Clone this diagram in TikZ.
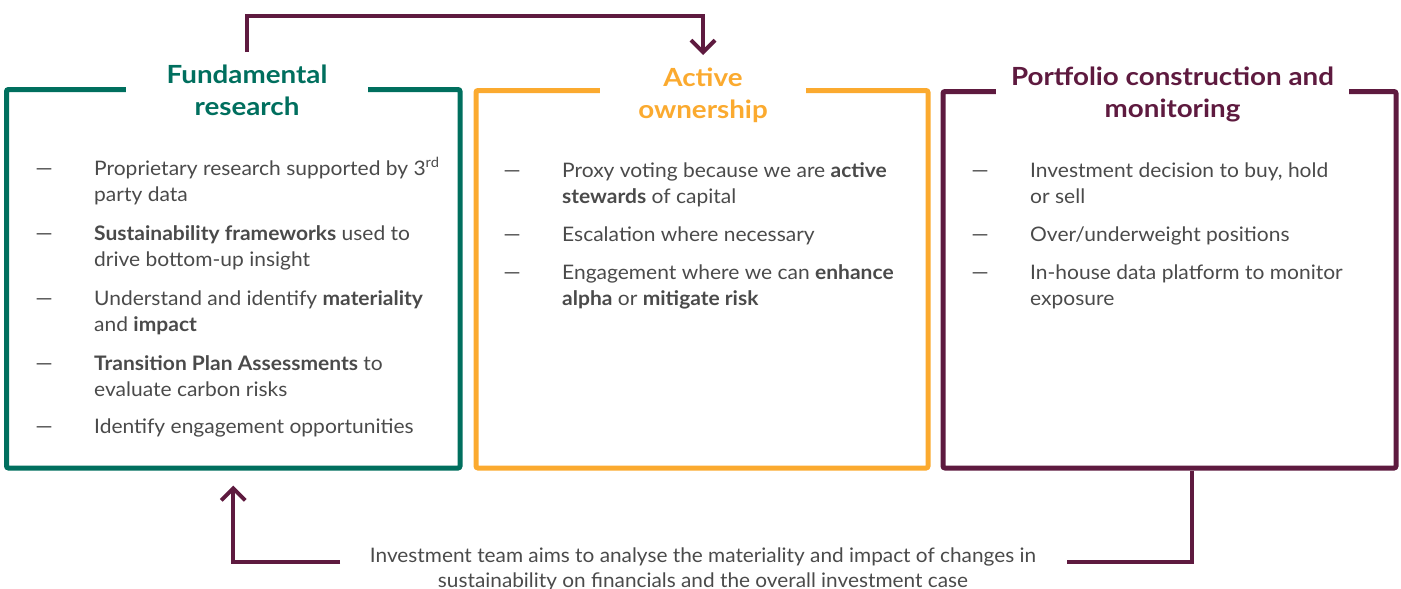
\documentclass[tikz,border=0pt]{standalone}
\usepackage{fontspec}
\setmainfont{Lato}[FakeStretch=1.05]
\newfontfamily\notefont[FakeStretch=1.04]{Lato}
\newfontfamily\titlefont[FakeStretch=1.11]{Lato}
\usetikzlibrary{arrows.meta}
\definecolor{fgreen}{HTML}{006F5E}
\definecolor{forange}{HTML}{FBAA2F}
\definecolor{fplum}{HTML}{5E1A3F}
\definecolor{fgray}{HTML}{4A4A4A}
\begin{document}
\begin{tikzpicture}[x=1pt,y=-1pt,
  box/.style={line width=5pt, rounded corners=2pt, inner sep=0pt},
  title/.style={fill=white, inner xsep=0pt, inner ysep=13pt, align=center,
    font=\titlefont\fontsize{25}{32}\selectfont\bfseries, anchor=north},
  item/.style={anchor=base west, inner sep=0pt, text=fgray,
    font=\fontsize{20}{26}\selectfont},
  bullet/.style={anchor=base, inner sep=0pt, text=fgray,
    font=\fontsize{21}{26}\selectfont},
  flow/.style={line width=4pt, draw=fplum, -{Straight Barb[length=12pt,width=24pt]}},
  link/.style={line width=4pt, draw=fplum}
]
\useasboundingbox (0,0) rectangle (1401,589);

% boxes
\node[box, draw=fgreen, minimum width=453.5pt, minimum height=378.5pt] (gbox) at (233.25,278.75) {};
\node[box, draw=forange, minimum width=452pt, minimum height=377.5pt] (obox) at (702,279.25) {};
\node[box, draw=fplum, minimum width=453pt, minimum height=376.5pt] (pbox) at (1169.5,279.75) {};

% titles
\node[title, text=fgreen, minimum width=242pt] (gt) at (247,52) {Fundamental\\research};
\node[title, text=forange, minimum width=206pt] (ot) at (703,55) {Active\\ownership};
\node[title, text=fplum, minimum width=353pt] (pt) at (1172.5,54) {Portfolio construction and\\monitoring};

% green items
\node[bullet] (gd1) at (44,175) {—};
\node[item] (g1) at (94,175) {\begin{tabular}[t]{@{}l@{}}Proprietary research supported by 3\textsuperscript{rd}\\party data\end{tabular}};
\node[bullet] (gd2) at (44,240) {—};
\node[item] (g2) at (94,240) {\begin{tabular}[t]{@{}l@{}}\textbf{Sustainability frameworks} used to\\drive bottom-up insight\end{tabular}};
\node[bullet] (gd3) at (44,305) {—};
\node[item] (g3) at (94,305) {\begin{tabular}[t]{@{}l@{}}Understand and identify \textbf{materiality}\\and \textbf{impact}\end{tabular}};
\node[bullet] (gd4) at (44,370) {—};
\node[item] (g4) at (94,370) {\begin{tabular}[t]{@{}l@{}}\textbf{Transition Plan Assessments} to\\evaluate carbon risks\end{tabular}};
\node[bullet] (gd5) at (44,433) {—};
\node[item] (g5) at (94,433) {Identify engagement opportunities};

% orange items
\node[bullet] (od1) at (512,177) {—};
\node[item] (o1) at (562,177) {\begin{tabular}[t]{@{}l@{}}Proxy voting because we are \textbf{active}\\\textbf{stewards} of capital\end{tabular}};
\node[bullet] (od2) at (512,241) {—};
\node[item] (o2) at (562,241) {Escalation where necessary};
\node[bullet] (od3) at (512,279) {—};
\node[item] (o3) at (562,279) {\begin{tabular}[t]{@{}l@{}}Engagement where we can \textbf{enhance}\\\textbf{alpha} or \textbf{mitigate risk}\end{tabular}};

% plum items
\node[bullet] (pd1) at (980,177) {—};
\node[item] (p1) at (1030,177) {\begin{tabular}[t]{@{}l@{}}Investment decision to buy, hold\\or sell\end{tabular}};
\node[bullet] (pd2) at (980,241) {—};
\node[item] (p2) at (1030,241) {Over/underweight positions};
\node[bullet] (pd3) at (980,279) {—};
\node[item] (p3) at (1030,279) {\begin{tabular}[t]{@{}l@{}}In-house data platform to monitor\\exposure\end{tabular}};

% bottom note
\node[anchor=base, inner sep=0pt, text=fgray, font=\notefont\fontsize{20}{25}\selectfont] (note) at (703,562)
  {\begin{tabular}[t]{@{}c@{}}Investment team aims to analyse the materiality and impact of changes in\\sustainability on financials and the overall investment case\end{tabular}};

% connectors
\coordinate (nl) at (340,562);
\coordinate (nr) at (1067,562);
\draw[flow] (gt.north) -- ++(0,-36) -| (ot.north);
\draw[flow] (nl) -| ([yshift=-15pt]gbox.south);
\draw[link] ([xshift=22.5pt]pbox.south) |- (nr);
\end{tikzpicture}
\end{document}
